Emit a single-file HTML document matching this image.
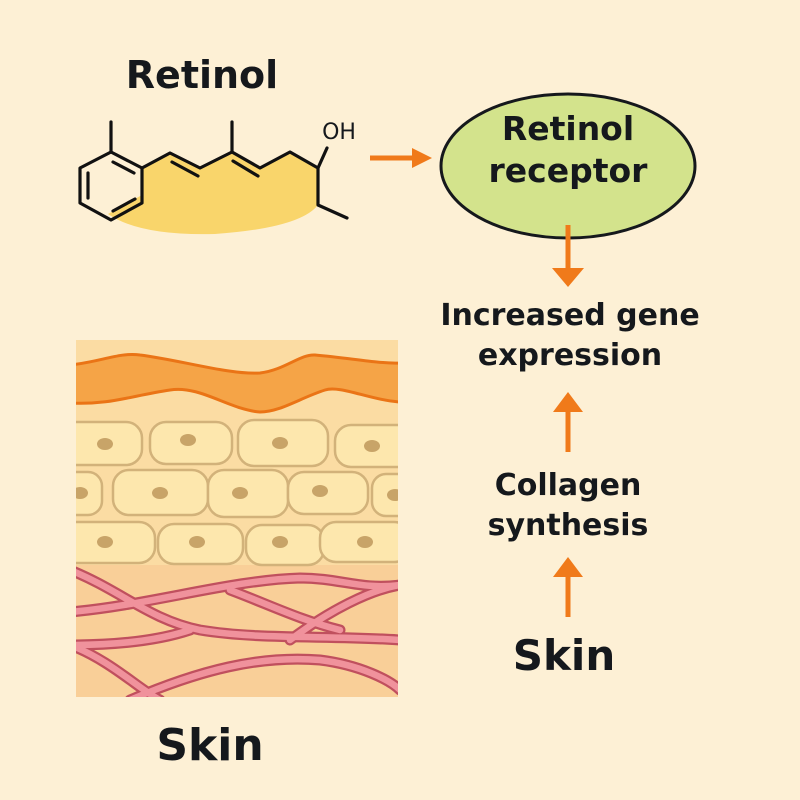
<!DOCTYPE html>
<html><head><style>
body{margin:0;background:#fdf0d5;}
svg{display:block}
text{font-family:"DejaVu Sans","Liberation Sans",sans-serif;font-weight:bold;fill:#15181c;text-anchor:middle}
</style></head><body>
<svg width="800" height="800" viewBox="0 0 800 800">
<rect width="800" height="800" fill="#fdf0d5"/>
<text x="202" y="88" font-size="38">Retinol</text>
<!-- molecule -->
<path d="M108,214 L142,195 L142,168 L170,153 L200,168 L232,152 L260,168 L290,152 L318,168 L318,205 Q300,228 215,234 Q140,236 108,214 Z" fill="#f9d56b"/>
<g stroke="#111" stroke-width="3.2" fill="none" stroke-linejoin="round" stroke-linecap="round">
<path d="M111,152 L142,168 L142,203 L111,220 L80,203 L80,168 Z"/>
<path d="M88,173 L88,198 M113,211 L135,199 M113,162 L134,173"/>
<path d="M111,152 L111,122"/>
<path d="M142,168 L170,153 L200,168 L232,152 L260,168 L290,152 L318,168 L318,205 L347,218"/>
<path d="M172,162 L198,176 M233,161 L258,176"/>
<path d="M232,152 L232,122 M318,168 L327,148"/>
</g>
<text x="339" y="139" font-size="22" style="font-weight:normal">OH</text>
<!-- arrow right -->
<line x1="370" y1="158" x2="414" y2="158" stroke="#f07a1a" stroke-width="5"/>
<polygon points="412,148 432,158 412,168" fill="#f07a1a"/>
<!-- ellipse -->
<ellipse cx="568" cy="166" rx="127" ry="72" fill="#d3e38c" stroke="#15181c" stroke-width="3"/>
<text x="568" y="140" font-size="33">Retinol</text>
<text x="568" y="182" font-size="33">receptor</text>
<line x1="568" y1="225" x2="568" y2="270" stroke="#f07a1a" stroke-width="5"/>
<polygon points="552,268 584,268 568,287" fill="#f07a1a"/>
<text x="570" y="325" font-size="30" style="font-weight:600">Increased gene</text>
<text x="570" y="365" font-size="30" style="font-weight:600">expression</text>
<line x1="568" y1="410" x2="568" y2="452" stroke="#f07a1a" stroke-width="5"/>
<polygon points="553,412 583,412 568,392" fill="#f07a1a"/>
<text x="568" y="495" font-size="30" style="font-weight:600">Collagen</text>
<text x="568" y="535" font-size="30" style="font-weight:600">synthesis</text>
<line x1="568" y1="575" x2="568" y2="617" stroke="#f07a1a" stroke-width="5"/>
<polygon points="553,577 583,577 568,557" fill="#f07a1a"/>
<text x="564" y="670" font-size="42">Skin</text>
<text x="210" y="760" font-size="44">Skin</text>
<!-- skin -->
<defs><clipPath id="c"><rect x="76" y="340" width="322" height="357"/></clipPath></defs>
<g clip-path="url(#c)">
<rect x="76" y="340" width="322" height="357" fill="#fbdca3"/>
<rect x="76" y="565" width="322" height="132" fill="#f9cf98"/>
<path d="M70,365 C100,362 120,352 140,355 C180,360 230,375 260,373 C285,370 300,354 315,355 C350,358 380,364 400,363 L400,402 C370,400 340,385 325,390 C300,398 280,412 260,412 C230,410 200,385 170,390 C130,396 110,405 70,403 Z" fill="#f5a447" stroke="#ea7416" stroke-width="3"/>
<g fill="#fde7ad" stroke="#d2b27a" stroke-width="2.5">
<rect x="60" y="422" width="82" height="43" rx="16"/>
<rect x="150" y="422" width="82" height="42" rx="16"/>
<rect x="238" y="420" width="90" height="46" rx="16"/>
<rect x="335" y="425" width="80" height="42" rx="16"/>
<rect x="50" y="472" width="52" height="43" rx="14"/>
<rect x="113" y="470" width="95" height="45" rx="16"/>
<rect x="208" y="470" width="80" height="47" rx="16"/>
<rect x="288" y="472" width="80" height="42" rx="16"/>
<rect x="372" y="474" width="50" height="42" rx="14"/>
<rect x="60" y="522" width="95" height="41" rx="16"/>
<rect x="158" y="524" width="85" height="40" rx="16"/>
<rect x="246" y="525" width="78" height="40" rx="16"/>
<rect x="320" y="522" width="90" height="40" rx="16"/>
</g>
<g fill="#c8a468">
<ellipse cx="105" cy="444" rx="8" ry="6"/><ellipse cx="188" cy="440" rx="8" ry="6"/><ellipse cx="280" cy="443" rx="8" ry="6"/><ellipse cx="372" cy="446" rx="8" ry="6"/>
<ellipse cx="80" cy="493" rx="8" ry="6"/><ellipse cx="160" cy="493" rx="8" ry="6"/><ellipse cx="240" cy="493" rx="8" ry="6"/><ellipse cx="320" cy="491" rx="8" ry="6"/><ellipse cx="395" cy="495" rx="8" ry="6"/>
<ellipse cx="105" cy="542" rx="8" ry="6"/><ellipse cx="197" cy="542" rx="8" ry="6"/><ellipse cx="280" cy="542" rx="8" ry="6"/><ellipse cx="365" cy="542" rx="8" ry="6"/>
</g>
<g fill="none" stroke-linecap="round">
<g stroke="#c0505e" stroke-width="11">
<path d="M70,612 C150,605 230,580 300,578 C340,578 360,590 400,585"/>
<path d="M70,570 C120,590 150,620 200,630 C260,640 330,635 400,640"/>
<path d="M70,645 C120,645 160,640 190,630"/>
<path d="M70,645 C110,660 140,690 160,700"/>
<path d="M130,700 C200,670 260,655 320,660 C360,665 390,680 400,690"/>
<path d="M230,590 C270,605 300,620 340,630"/>
<path d="M290,640 C330,610 370,590 400,585"/>
</g>
<g stroke="#f0929c" stroke-width="6.5">
<path d="M70,612 C150,605 230,580 300,578 C340,578 360,590 400,585"/>
<path d="M70,570 C120,590 150,620 200,630 C260,640 330,635 400,640"/>
<path d="M70,645 C120,645 160,640 190,630"/>
<path d="M70,645 C110,660 140,690 160,700"/>
<path d="M130,700 C200,670 260,655 320,660 C360,665 390,680 400,690"/>
<path d="M230,590 C270,605 300,620 340,630"/>
<path d="M290,640 C330,610 370,590 400,585"/>
</g>
</g>
</g>
</svg>
</body></html>
